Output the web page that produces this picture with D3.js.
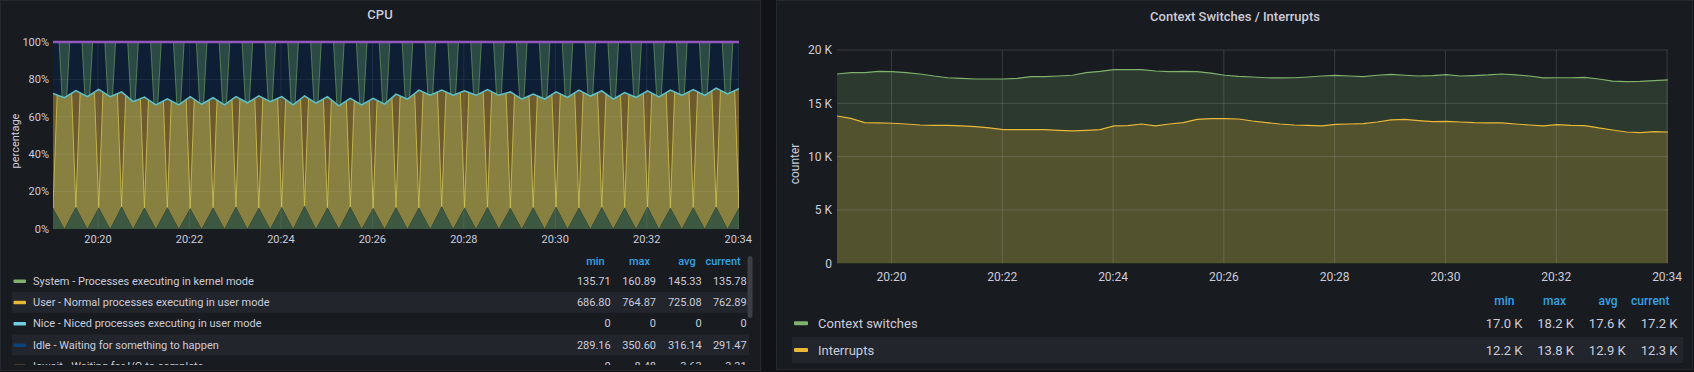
<!DOCTYPE html>
<html>
<head>
<meta charset="utf-8">
<script src="https://cdn.jsdelivr.net/npm/d3@7"></script>
<style>
    body { margin: 0; background: #111217; }
    svg { display: block; font-family: Roboto, Inter, "Noto Sans", sans-serif; }
</style>
</head>
<body>
<svg id="chart" width="1694" height="372"></svg>
<script>
    // ---- data ----
    // samples every 15s starting 20:19:01
    var startTime = "20:19:01";
    var stepSeconds = 15;
    var sampleCount = 61;

    var xTickLabels = ["20:20", "20:22", "20:24", "20:26", "20:28", "20:30", "20:32", "20:34"];
    var cpuYTicks = [0, 20, 40, 60, 80, 100];
    var ctxYTicks = [0, 5000, 10000, 15000, 20000];

    // CPU panel, percent of total (stacked)
    var cpuSystem = [11.2, 0, 11.6, 0, 11.4, 0, 11.9, 0, 11.3, 0, 11.5, 0, 11.0, 0, 11.4, 0, 11.8, 0, 11.2, 0,
                     11.6, 0, 12.3, 0, 11.4, 0, 11.7, 0, 11.1, 0, 11.5, 0, 11.3, 0, 12.0, 0, 11.4, 0, 11.6, 0,
                     11.2, 0, 11.5, 0, 11.8, 0, 11.3, 0, 11.6, 0, 11.4, 0, 11.9, 0, 11.2, 0, 11.5, 0, 11.7, 0, 11.4];
    var cpuUser = [61.3, 70.2, 62.4, 70.8, 63.3, 70.8, 61.4, 68.1, 59.2, 66.4, 58.1, 66.4, 59.8, 66.7, 58.8, 66.4, 59.0, 67.5, 60.0, 68.1,
                   59.2, 66.4, 58.9, 67.3, 59.4, 65.9, 58.2, 66.4, 58.8, 66.8, 60.6, 69.4, 63.0, 71.5, 62.3, 71.5, 62.5, 71.5, 63.0, 71.5,
                   62.1, 69.4, 60.7, 69.5, 61.5, 70.4, 63.0, 71.1, 62.3, 69.4, 61.5, 70.4, 62.0, 70.7, 63.1, 71.5, 63.1, 71.5, 63.6, 72.2, 63.7];
    var cpuNice = [0, 0, 0, 0, 0, 0, 0, 0, 0, 0, 0, 0, 0, 0, 0, 0, 0, 0, 0, 0,
                   0, 0, 0, 0, 0, 0, 0, 0, 0, 0, 0, 0, 0, 0, 0, 0, 0, 0, 0, 0,
                   0, 0, 0, 0, 0, 0, 0, 0, 0, 0, 0, 0, 0, 0, 0, 0, 0, 0, 0, 0, 0];
    var cpuIdle = [27.5, 29.8, 26.0, 29.2, 25.3, 29.2, 26.7, 31.9, 29.5, 33.6, 30.4, 33.6, 29.2, 33.3, 29.8, 33.6, 29.2, 32.5, 28.8, 31.9,
                   29.2, 33.6, 28.8, 32.7, 29.2, 34.1, 30.1, 33.6, 30.1, 33.2, 27.9, 30.6, 25.7, 28.5, 25.7, 28.5, 26.1, 28.5, 25.4, 28.5,
                   26.7, 30.6, 27.8, 30.5, 26.7, 29.6, 25.7, 28.9, 26.1, 30.6, 27.1, 29.6, 26.1, 29.3, 25.7, 28.5, 25.4, 28.5, 24.7, 27.8, 24.9];

    var cpuNames = ["System - Processes executing in kernel mode",
                    "User - Normal processes executing in user mode",
                    "Nice - Niced processes executing in user mode",
                    "Idle - Waiting for something to happen",
                    "Iowait - Waiting for I/O to complete"];
    var cpuColors = ["#7EB26D", "#EAB839", "#6ED0E0", "#0A437C", "#EF843C"];
    var cpuMin = ["135.71", "686.80", "0", "289.16", "0"];
    var cpuMax = ["160.89", "764.87", "0", "350.60", "8.48"];
    var cpuAvg = ["145.33", "725.08", "0", "316.14", "3.63"];
    var cpuCurrent = ["135.78", "762.89", "0", "291.47", "3.31"];

    // Context switches / interrupts panel
    var ctxSwitches = [17750, 17880, 17880, 18000, 17970, 17880, 17750, 17560, 17400, 17340, 17280, 17280, 17280, 17340, 17500, 17500, 17560, 17630, 17880, 18000,
                       18160, 18160, 18160, 18030, 17970, 18000, 17970, 17840, 17630, 17530, 17470, 17400, 17380, 17400, 17470, 17560, 17630, 17560, 17500, 17630,
                       17720, 17630, 17560, 17600, 17690, 17560, 17600, 17660, 17750, 17660, 17560, 17380, 17400, 17400, 17440, 17280, 17090, 17030, 17060, 17130, 17190];
    var interrupts = [13810, 13590, 13190, 13160, 13130, 13060, 12970, 12940, 12940, 12880, 12810, 12690, 12530, 12530, 12530, 12530, 12470, 12410, 12470, 12530,
                      12880, 12910, 13060, 12880, 13060, 13190, 13500, 13560, 13560, 13530, 13340, 13190, 13060, 12970, 12940, 12880, 13030, 13060, 13090, 13250,
                      13440, 13500, 13380, 13280, 13310, 13250, 13190, 13160, 13160, 13060, 12970, 12880, 13000, 12940, 12910, 12690, 12500, 12310, 12250, 12340, 12310];

    var ctxNames = ["Context switches", "Interrupts"];
    var ctxColors = ["#7EB26D", "#EAB839"];
    var ctxMin = ["17.0 K", "12.2 K"];
    var ctxMax = ["18.2 K", "13.8 K"];
    var ctxAvg = ["17.6 K", "12.9 K"];
    var ctxCurrent = ["17.2 K", "12.3 K"];

    var statHeaders = ["min", "max", "avg", "current"];

    // ---- setup ----
    var svg = d3.select("#chart");
    var parseT = d3.timeParse("%H:%M:%S");
    var parseM = d3.timeParse("%H:%M");
    var fmt = d3.timeFormat("%H:%M");
    var t0 = parseT(startTime);
    var times = d3.range(sampleCount).map(function(i){ return d3.timeSecond.offset(t0, i * stepSeconds); });
    var tickTimes = xTickLabels.map(function(s){ return parseM(s); });
    var textColor = "#ccccdc";
    var headColor = "#33a2e5";

    // panels
    svg.append("rect").attr("x", 0.5).attr("y", 0.5).attr("width", 760).attr("height", 370)
        .attr("fill", "#181b1f").attr("stroke", "#25282e");
    svg.append("rect").attr("x", 776.5).attr("y", 0.5).attr("width", 916).attr("height", 369)
        .attr("fill", "#181b1f").attr("stroke", "#25282e");

    // ================= CPU panel =================
    var xC = d3.scaleTime().domain([times[0], times[times.length - 1]]).range([53, 739]);
    var yC = d3.scaleLinear().domain([0, 100]).range([229, 42]);

    svg.append("text").attr("x", 380).attr("y", 14).attr("dy", "0.35em").attr("text-anchor", "middle")
        .attr("fill", textColor).attr("font-size", 13).attr("font-weight", 500).text("CPU");

    var defs = svg.append("defs");
    defs.append("clipPath").attr("id", "cpuClip").append("rect")
        .attr("x", 53).attr("y", 40).attr("width", 686).attr("height", 190);

    var cpuRows = times.map(function(t, i){
        return {t: t, system: cpuSystem[i], user: cpuUser[i], nice: cpuNice[i], idle: cpuIdle[i]};
    });
    var cpuStack = d3.stack().keys(["system", "user", "nice", "idle"])(cpuRows);
    var areaC = d3.area()
        .x(function(d){ return xC(d.data.t); })
        .y0(function(d){ return yC(d[0]); })
        .y1(function(d){ return yC(d[1]); });
    var lineC = d3.line()
        .x(function(d){ return xC(d.data.t); })
        .y(function(d){ return yC(d[1]); });
    var vLine = d3.line()
        .x(function(d){ return xC(d[0]); })
        .y(function(d){ return yC(d[1]); });

    defs.append("clipPath").attr("id", "userClip").append("path").attr("d", areaC(cpuStack[1]));

    var gC = svg.append("g").attr("clip-path", "url(#cpuClip)");

    // idle
    gC.append("path").attr("d", areaC(cpuStack[3])).attr("fill", "#0e1f35");

    // idle spikes where the system sample is missing
    var idleSpikes = cpuRows.filter(function(d){ return d.system === 0; });
    gC.selectAll(".ispike").data(idleSpikes).enter().append("path")
        .attr("class", "ispike")
        .attr("d", function(d){
            return vLine([[d3.timeSecond.offset(d.t, -7), 100], [d.t, 48], [d3.timeSecond.offset(d.t, 7), 100]]) + "Z";
        })
        .attr("fill", "#2b4a46").attr("stroke", "#7EB26D").attr("stroke-opacity", 0.55).attr("stroke-width", 1);

    // user
    gC.append("path").attr("d", areaC(cpuStack[1])).attr("fill", "#878041");

    // user spikes
    var userSpikes = cpuRows.filter(function(d){ return d.system > 0; });
    var gU = gC.append("g").attr("clip-path", "url(#userClip)");
    gU.selectAll(".uspike").data(userSpikes).enter().append("path")
        .attr("class", "uspike")
        .attr("d", function(d){
            return vLine([[d3.timeSecond.offset(d.t, -8), 100], [d.t, d.system], [d3.timeSecond.offset(d.t, 8), 100]]) + "Z";
        })
        .attr("fill", "#6e5a2d").attr("stroke", "#cfc454").attr("stroke-opacity", 0.8).attr("stroke-width", 1);

    // system
    gC.append("path").attr("d", areaC(cpuStack[0])).attr("fill", "#3d5840");

    // grid
    gC.selectAll(".hg").data(cpuYTicks.slice(1, 5)).enter().append("line")
        .attr("x1", 53).attr("x2", 739)
        .attr("y1", function(d){ return yC(d); }).attr("y2", function(d){ return yC(d); })
        .attr("stroke", "#ffffff").attr("stroke-opacity", 0.07);
    gC.selectAll(".vg").data(tickTimes).enter().append("line")
        .attr("y1", 42).attr("y2", 229)
        .attr("x1", function(d){ return xC(d); }).attr("x2", function(d){ return xC(d); })
        .attr("stroke", "#ffffff").attr("stroke-opacity", 0.07);

    // nice line (sits on top of user) and top line
    gC.append("path").attr("d", lineC(cpuStack[2])).attr("fill", "none")
        .attr("stroke", "#5ec2ca").attr("stroke-width", 1.5);
    gC.append("path").attr("d", lineC(cpuStack[3])).attr("fill", "none")
        .attr("stroke", "#9457c2").attr("stroke-width", 2.5);

    // axes labels
    svg.selectAll(".cyl").data(cpuYTicks).enter().append("text")
        .attr("x", 49).attr("y", function(d){ return yC(d); }).attr("dy", "0.35em")
        .attr("text-anchor", "end").attr("font-size", 11).attr("fill", textColor)
        .text(function(d){ return d + "%"; });
    svg.selectAll(".cxl").data(tickTimes).enter().append("text")
        .attr("x", function(d){ return xC(d); }).attr("y", 239).attr("dy", "0.35em")
        .attr("text-anchor", "middle").attr("font-size", 11).attr("fill", textColor)
        .text(function(d){ return fmt(d); });
    svg.append("text").attr("transform", "translate(15,141) rotate(-90)").attr("dy", "0.35em")
        .attr("text-anchor", "middle").attr("font-size", 11).attr("fill", textColor).text("percentage");

    // legend table
    defs.append("clipPath").attr("id", "cpuLegClip").append("rect")
        .attr("x", 0).attr("y", 248).attr("width", 760).attr("height", 117);
    var gL = svg.append("g").attr("clip-path", "url(#cpuLegClip)");
    var cpuCols = [610.7, 656, 701.7, 746.7];
    var cpuRow0 = 281, cpuRowH = 21.3;
    gL.selectAll(".hd").data(statHeaders).enter().append("text")
        .attr("x", function(d, i){ return cpuCols[i] - 6; }).attr("y", 261).attr("dy", "0.35em")
        .attr("text-anchor", "end").attr("font-size", 11).attr("font-weight", 500).attr("fill", headColor)
        .text(function(d){ return d; });
    cpuNames.forEach(function(name, i){
        var y = cpuRow0 + i * cpuRowH;
        if (i % 2 === 1) {
            gL.append("rect").attr("x", 12).attr("y", y - 10.5).attr("width", 737).attr("height", 21)
                .attr("fill", "#22252b");
        }
        gL.append("rect").attr("x", 13.5).attr("y", y - 1.5).attr("width", 12.5).attr("height", 3.5)
            .attr("rx", 1).attr("fill", cpuColors[i]);
        gL.append("text").attr("x", 33).attr("y", y).attr("dy", "0.35em")
            .attr("font-size", 11).attr("fill", textColor).text(name);
        [cpuMin[i], cpuMax[i], cpuAvg[i], cpuCurrent[i]].forEach(function(v, j){
            gL.append("text").attr("x", cpuCols[j]).attr("y", y).attr("dy", "0.35em")
                .attr("text-anchor", "end").attr("font-size", 11).attr("fill", textColor).text(v);
        });
    });
    // scrollbar
    svg.append("rect").attr("x", 747.5).attr("y", 256).attr("width", 5).attr("height", 62)
        .attr("rx", 2.5).attr("fill", "#3b3e45");

    // ================= Context switches panel =================
    var xR = d3.scaleTime().domain([times[0], times[times.length - 1]]).range([837, 1668]);
    var yR = d3.scaleLinear().domain([0, 20000]).range([263.3, 50]);

    svg.append("text").attr("x", 1235).attr("y", 16).attr("dy", "0.35em").attr("text-anchor", "middle")
        .attr("fill", textColor).attr("font-size", 13).attr("font-weight", 500).text("Context Switches / Interrupts");

    var ctxRows = times.map(function(t, i){ return {t: t, cs: ctxSwitches[i], irq: interrupts[i]}; });
    var areaR = function(key){
        return d3.area().x(function(d){ return xR(d.t); })
            .y0(yR(0)).y1(function(d){ return yR(d[key]); });
    };
    var lineR = function(key){
        return d3.line().x(function(d){ return xR(d.t); }).y(function(d){ return yR(d[key]); });
    };

    svg.append("path").attr("d", areaR("cs")(ctxRows)).attr("fill", ctxColors[0]).attr("fill-opacity", 0.2);
    svg.append("path").attr("d", areaR("irq")(ctxRows)).attr("fill", ctxColors[1]).attr("fill-opacity", 0.2);

    svg.selectAll(".rhg").data(ctxYTicks.slice(1)).enter().append("line")
        .attr("x1", 837).attr("x2", 1668)
        .attr("y1", function(d){ return yR(d); }).attr("y2", function(d){ return yR(d); })
        .attr("stroke", "#ccccdc").attr("stroke-opacity", 0.18);
    svg.selectAll(".rvg").data(tickTimes).enter().append("line")
        .attr("y1", 50).attr("y2", 263.3)
        .attr("x1", function(d){ return xR(d); }).attr("x2", function(d){ return xR(d); })
        .attr("stroke", "#ccccdc").attr("stroke-opacity", 0.18);

    svg.append("path").attr("d", lineR("cs")(ctxRows)).attr("fill", "none")
        .attr("stroke", ctxColors[0]).attr("stroke-width", 1.2);
    svg.append("path").attr("d", lineR("irq")(ctxRows)).attr("fill", "none")
        .attr("stroke", ctxColors[1]).attr("stroke-width", 1.2);

    svg.selectAll(".ryl").data(ctxYTicks).enter().append("text")
        .attr("x", 832).attr("y", function(d){ return yR(d); }).attr("dy", "0.35em")
        .attr("text-anchor", "end").attr("font-size", 12).attr("fill", textColor)
        .text(function(d){ return d === 0 ? "0" : (d / 1000) + " K"; });
    svg.selectAll(".rxl").data(tickTimes).enter().append("text")
        .attr("x", function(d){ return xR(d); }).attr("y", 277).attr("dy", "0.35em")
        .attr("text-anchor", "middle").attr("font-size", 12).attr("fill", textColor)
        .text(function(d){ return fmt(d); });
    svg.append("text").attr("transform", "translate(795,164) rotate(-90)").attr("dy", "0.35em")
        .attr("text-anchor", "middle").attr("font-size", 12).attr("fill", textColor).text("counter");

    var ctxCols = [1522.5, 1574, 1625.6, 1677.5];
    var ctxRow0 = 323.3, ctxRowH = 26.7;
    svg.selectAll(".rhd").data(statHeaders).enter().append("text")
        .attr("x", function(d, i){ return ctxCols[i] - 8; }).attr("y", 301).attr("dy", "0.35em")
        .attr("text-anchor", "end").attr("font-size", 12).attr("font-weight", 500).attr("fill", headColor)
        .text(function(d){ return d; });
    ctxNames.forEach(function(name, i){
        var y = ctxRow0 + i * ctxRowH;
        if (i % 2 === 1) {
            svg.append("rect").attr("x", 792).attr("y", y - 13).attr("width", 891).attr("height", 26)
                .attr("fill", "#22252b");
        }
        svg.append("rect").attr("x", 794).attr("y", y - 2).attr("width", 14).attr("height", 4)
            .attr("rx", 1).attr("fill", ctxColors[i]);
        svg.append("text").attr("x", 818).attr("y", y).attr("dy", "0.35em")
            .attr("font-size", 13).attr("fill", textColor).text(name);
        [ctxMin[i], ctxMax[i], ctxAvg[i], ctxCurrent[i]].forEach(function(v, j){
            svg.append("text").attr("x", ctxCols[j]).attr("y", y).attr("dy", "0.35em")
                .attr("text-anchor", "end").attr("font-size", 13).attr("fill", textColor).text(v);
        });
    });
</script>
</body>
</html>
